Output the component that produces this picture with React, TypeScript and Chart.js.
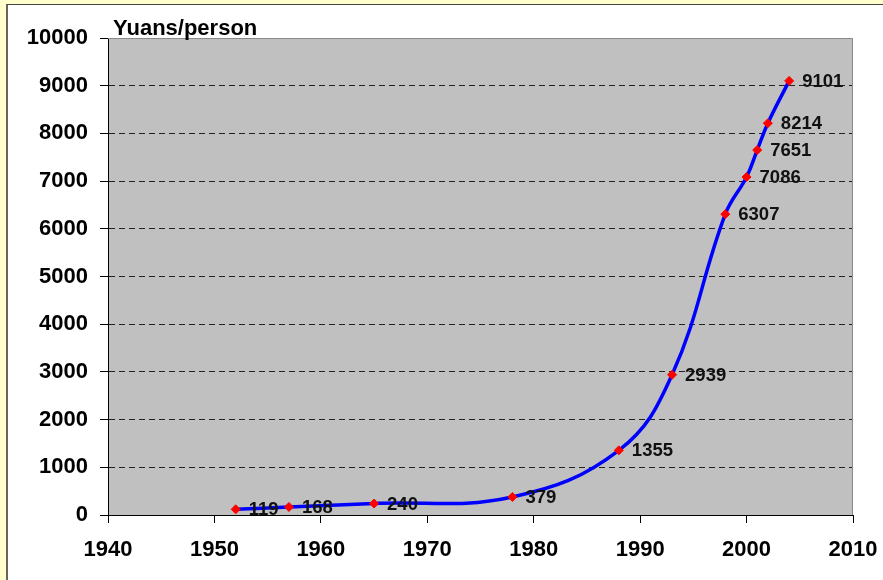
import React, { useEffect, useRef } from "react";
import { Chart, registerables } from "chart.js";

Chart.register(...registerables);

const years = [1952, 1957, 1965, 1978, 1988, 1993, 1998, 2000, 2001, 2002, 2004];
const values = [119, 168, 240, 379, 1355, 2939, 6307, 7086, 7651, 8214, 9101];
const yTicks = [0, 1000, 2000, 3000, 4000, 5000, 6000, 7000, 8000, 9000, 10000];
const xTicks = [1940, 1950, 1960, 1970, 1980, 1990, 2000, 2010];
const unitLabel = "Yuans/person";

const FONT = "'Liberation Sans', Arial, sans-serif";

export default function App() {
  const ref = useRef<HTMLCanvasElement | null>(null);

  useEffect(() => {
    if (!ref.current) return;
    const bgPlugin = {
      id: "plotBg",
      beforeDraw(chart: any) {
        const { ctx, chartArea: a } = chart;
        ctx.save();
        ctx.fillStyle = "#C0C0C0";
        ctx.fillRect(a.left, a.top, a.right - a.left, a.bottom - a.top);
        ctx.restore();
      },
      beforeDatasetsDraw(chart: any) {
        const { ctx, chartArea: a } = chart;
        ctx.save();
        ctx.strokeStyle = "#8a8a8a";
        ctx.lineWidth = 1;
        ctx.beginPath();
        ctx.moveTo(a.left, a.top + 0.5);
        ctx.lineTo(a.right - 0.5, a.top + 0.5);
        ctx.lineTo(a.right - 0.5, a.bottom);
        ctx.stroke();
        ctx.restore();
      },
      afterDatasetsDraw(chart: any) {
        const { ctx } = chart;
        const meta = chart.getDatasetMeta(0);
        ctx.save();
        ctx.fillStyle = "#111";
        ctx.font = `bold 18.5px ${FONT}`;
        ctx.textBaseline = "middle";
        ctx.textAlign = "left";
        meta.data.forEach((pt: any, i: number) => {
          ctx.fillText(String(values[i]), pt.x + 13, pt.y + 1);
        });
        ctx.font = `bold 22px ${FONT}`;
        ctx.fillStyle = "#000";
        ctx.textBaseline = "alphabetic";
        ctx.fillText(unitLabel, 113, 35);
        ctx.restore();
      },
    };

    const chart = new Chart(ref.current, {
      type: "line",
      data: {
        datasets: [
          {
            data: years.map((x, i) => ({ x, y: values[i] })),
            borderColor: "#0000FF",
            borderWidth: 3.5,
            tension: 0.4,
            pointStyle: "rectRot",
            pointRadius: 4.5,
            pointBackgroundColor: "#FF0000",
            pointBorderColor: "#FF0000",
            pointBorderWidth: 1,
          },
        ],
      },
      options: {
        responsive: false,
        animation: false,
        layout: { padding: { top: 38, right: 30, left: 0, bottom: 0 } },
        plugins: { legend: { display: false }, tooltip: { enabled: false } },
        scales: {
          x: {
            type: "linear",
            min: xTicks[0],
            max: xTicks[xTicks.length - 1],
            afterBuildTicks: (s: any) => {
              s.ticks = xTicks.map((v) => ({ value: v }));
            },
            afterFit: (s: any) => {
              s.height = 65;
              s.paddingLeft = 0;
              s.paddingRight = 0;
            },
            ticks: {
              callback: (v: any) => String(v),
              font: { family: FONT, size: 22, weight: "bold" },
              color: "#000",
              padding: 14,
              maxRotation: 0,
            },
            grid: {
              drawOnChartArea: false,
              drawTicks: true,
              tickLength: 8,
              tickColor: "#000",
              tickWidth: 1,
            },
            border: { display: true, color: "#000", width: 1 },
          },
          y: {
            type: "linear",
            min: yTicks[0],
            max: yTicks[yTicks.length - 1],
            afterBuildTicks: (s: any) => {
              s.ticks = yTicks.map((v) => ({ value: v }));
            },
            afterFit: (s: any) => {
              s.width = 108;
              s.paddingTop = 0;
              s.paddingBottom = 0;
            },
            ticks: {
              callback: (v: any) => String(v),
              font: { family: FONT, size: 22, weight: "bold" },
              color: "#000",
              padding: 12,
            },
            grid: {
              color: (c: any) =>
                c.tick && (c.tick.value === 0 || c.tick.value === 10000) ? "rgba(0,0,0,0)" : "#222",
              lineWidth: 1,
              drawTicks: true,
              tickLength: 8,
              tickColor: "#000",
              tickWidth: 1,
            },
            border: { display: true, color: "#000", width: 1, dash: [6, 4] },
          },
        },
      },
      plugins: [bgPlugin],
    } as any);
    return () => chart.destroy();
  }, []);

  return (
    <div
      style={{
        position: "absolute",
        left: 0,
        top: 0,
        width: 883,
        height: 580,
        background: "#FFFFCC",
        overflow: "hidden",
      }}
    >
      <div
        style={{
          position: "absolute",
          left: 6,
          top: 4,
          right: 0,
          bottom: 0,
          background: "#FFFFFF",
          borderLeft: "2px solid #66665c",
          borderTop: "1px solid #444",
        }}
      />
      <canvas
        ref={ref}
        width={883}
        height={580}
        style={{ position: "absolute", left: 0, top: 0 }}
      />
    </div>
  );
}
